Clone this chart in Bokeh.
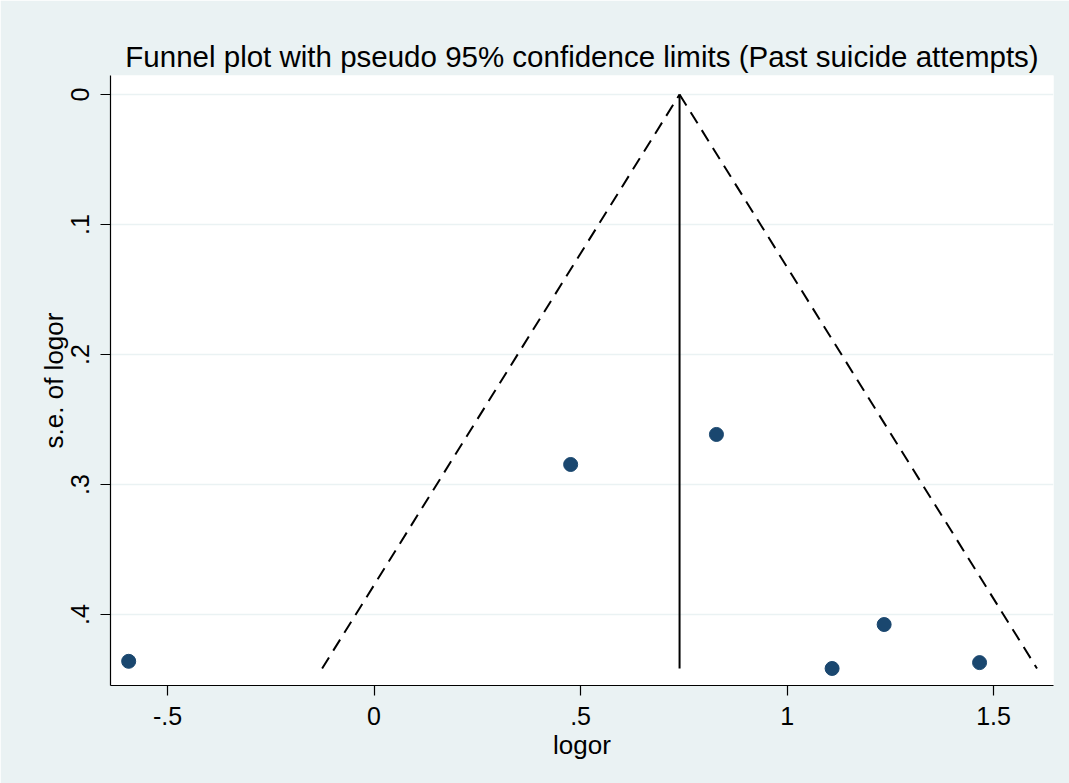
import numpy as np
from bokeh.plotting import figure
from bokeh.models import Range1d, FixedTicker
from bokeh.embed import file_html
from bokeh.resources import INLINE

# Study data (log odds ratio and its standard error)
logor = [-0.594, 0.476, 0.829, 1.235, 1.109, 1.466]
se_logor = [0.436, 0.2846, 0.2615, 0.4077, 0.4415, 0.437]
pooled = 0.7397
x_ticks = [-0.5, 0, 0.5, 1, 1.5]
x_tick_labels = ["-.5", "0", ".5", "1", "1.5"]
y_ticks = [0, 0.1, 0.2, 0.3, 0.4]
y_tick_labels = ["0", ".1", ".2", ".3", ".4"]

BG = "#EAF2F3"
FONT = "Liberation Sans"

p = figure(width=1069, height=783, output_backend="svg", toolbar_location=None,
           x_range=Range1d(-0.638, 1.645), y_range=Range1d(0.4546, -0.0146),
           min_border_left=110, min_border_right=16, min_border_top=75, min_border_bottom=98)
p.background_fill_color = "white"
p.border_fill_color = BG
p.outline_line_color = None

p.title.text = "Funnel plot with pseudo 95% confidence limits (Past suicide attempts)"
p.title.text_font = FONT
p.title.text_font_size = "29.5px"
p.title.text_font_style = "normal"
p.title.align = "center"
p.title.text_color = "black"
p.title.standoff = 5

# grid
p.xgrid.visible = False
p.ygrid.ticker = FixedTicker(ticks=y_ticks)
p.ygrid.grid_line_color = BG
p.ygrid.grid_line_width = 1.5

# axes
for ax in (p.xaxis[0], p.yaxis[0]):
    ax.axis_line_color = "black"
    ax.axis_line_width = 1.2
    ax.major_tick_line_color = "black"
    ax.major_tick_line_width = 1.2
    ax.major_tick_out = 10
    ax.major_tick_in = 0
    ax.minor_tick_line_color = None
    ax.major_label_text_font = FONT
    ax.major_label_text_font_size = "25px"
    ax.major_label_text_color = "black"
    ax.axis_label_text_font = FONT
    ax.axis_label_text_font_size = "26px"
    ax.axis_label_text_font_style = "normal"
    ax.axis_label_text_color = "black"

p.xaxis.ticker = FixedTicker(ticks=x_ticks)
p.xaxis.major_label_overrides = {t: l for t, l in zip(x_ticks, x_tick_labels)}
p.xaxis.axis_label = "logor"
p.xaxis.major_label_standoff = 11
p.xaxis.axis_label_standoff = 2

p.yaxis.ticker = FixedTicker(ticks=y_ticks)
p.yaxis.major_label_overrides = {t: l for t, l in zip(y_ticks, y_tick_labels)}
p.yaxis.axis_label = "s.e. of logor"
p.yaxis.major_label_orientation = "vertical"
p.yaxis.major_label_standoff = 11
p.yaxis.axis_label_standoff = 0

# funnel limits
max_se = max(se_logor)
p.line([pooled - 1.96 * max_se, pooled], [max_se, 0], line_color="black",
       line_width=2, line_dash="13 8")
p.line([pooled, pooled + 1.96 * max_se], [0, max_se], line_color="black",
       line_width=2, line_dash="13 8")
p.line([pooled, pooled], [0, max_se], line_color="black", line_width=2)

p.scatter(logor, se_logor, size=14, fill_color="#1A476F", line_color="#1A476F")

open("out.html", "w").write(file_html(p, INLINE))
